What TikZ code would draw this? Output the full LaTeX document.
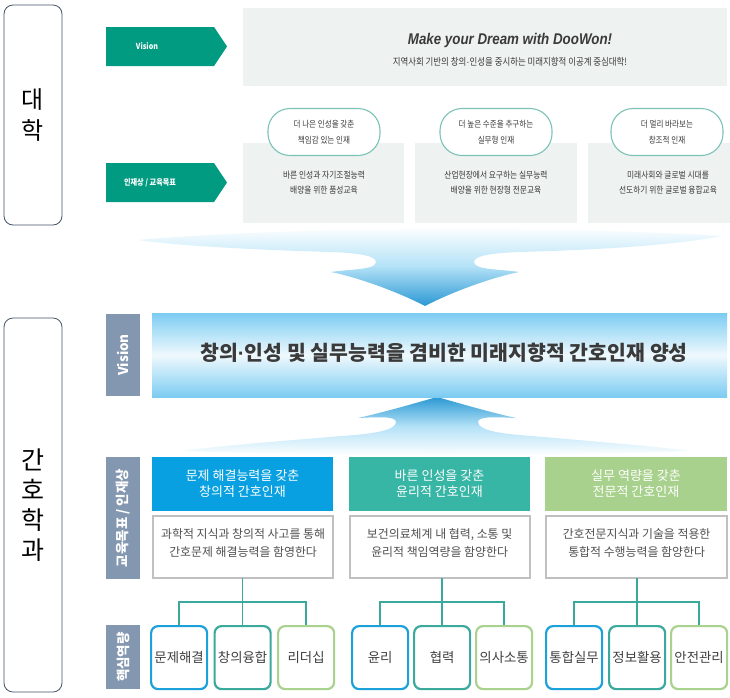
\documentclass[tikz,border=0pt]{standalone}
\usepackage{fontspec}
\setmainfont{Noto Sans CJK KR}
\newfontfamily\narrowkr[FakeStretch=0.86]{Noto Sans CJK KR}
\newfontfamily\latinf[FakeStretch=0.86]{Liberation Sans}
\newfontfamily\dotfont{Liberation Sans}
\definecolor{dwgreen}{HTML}{009B81}
\definecolor{dwgray}{HTML}{EEF2F1}
\definecolor{pillline}{HTML}{7CC3B6}
\definecolor{slate}{HTML}{44546A}
\definecolor{labgray}{HTML}{8497B0}
\definecolor{hblue}{HTML}{08A0E0}
\definecolor{hteal}{HTML}{37B5A5}
\definecolor{hgreen}{HTML}{A8D18D}
\definecolor{bblue}{HTML}{1DA1DB}
\definecolor{bteal}{HTML}{3BAA9C}
\definecolor{bgreen}{HTML}{AAD28F}
\definecolor{conn}{HTML}{3AA99B}
\definecolor{boxline}{HTML}{C0C0C0}
\definecolor{toptxt}{HTML}{3A3A3A}
\definecolor{bodytxt}{HTML}{505050}
\definecolor{skilltxt}{HTML}{404040}
\definecolor{arrblue}{HTML}{2B98D4}
\definecolor{arrmid}{HTML}{B4E2F7}
\definecolor{visblue}{HTML}{7CCCF2}
\tikzset{
  sidebox/.style={draw=slate, line width=0.8pt, rounded corners=9pt, anchor=north west},
  sidetext/.style={text=black, align=center},
  graypanel/.style={fill=dwgray, anchor=north west},
  greenarrow/.style={fill=dwgreen},
  greentext/.style={text=white, font=\narrowkr\bfseries\fontsize{8.3pt}{10pt}\selectfont},
  pill/.style={draw=pillline, line width=1.1pt, fill=white, rounded corners=22pt, anchor=north west,
    minimum width=112pt, minimum height=47pt, align=center, text=toptxt,
    font=\narrowkr\fontsize{8.8pt}{16pt}\selectfont},
  graytext/.style={align=center, text=toptxt, font=\narrowkr\fontsize{9pt}{15pt}\selectfont},
  labbox/.style={fill=labgray, anchor=north west, minimum width=34pt},
  labtext/.style={rotate=90, text=white, font=\bfseries\fontsize{13.5pt}{15pt}\selectfont},
  headbox/.style={anchor=north west, minimum width=181pt, minimum height=54pt, text=white, align=center,
    font=\fontsize{13pt}{16pt}\selectfont},
  bodybox/.style={draw=boxline, line width=2.2pt, fill=white, anchor=north west, minimum width=180pt, minimum height=62pt},
  bodytext/.style={align=center, text=bodytxt, font=\fontsize{11.9pt}{18.5pt}\selectfont},
  skill/.style={line width=2.2pt, rounded corners=7pt, fill=white, anchor=north west, minimum width=56pt,
    minimum height=63pt, text=skilltxt, font=\fontsize{13.4pt}{15pt}\selectfont},
  connline/.style={draw=conn, line width=1.4pt},
}
\begin{document}
\begin{tikzpicture}[x=1pt,y=-1pt, every node/.style={inner sep=0pt, outer sep=0pt}]
\useasboundingbox (0,0) rectangle (730,697);
\fill[white] (0,0) rectangle (730,697);

% ---------- left side boxes ----------
\node[sidebox, minimum width=58pt, minimum height=220pt] (univ) at (4,5) {};
\node[sidetext, font=\fontsize{24pt}{31pt}\selectfont] (univt) at (univ.center) {대\\학};
\node[sidebox, minimum width=58pt, minimum height=374pt] (nurse) at (4,318) {};
\node[sidetext, font=\fontsize{25pt}{30pt}\selectfont] (nurset) at (nurse.center) {간\\호\\학\\과};

% ---------- university section ----------
\node[graypanel, minimum width=484pt, minimum height=78pt] (uvis) at (243,8) {};
\node[text=toptxt, font=\latinf\bfseries\itshape\fontsize{15.5pt}{18pt}\selectfont] (slogan) at (510,40) {Make your Dream with DooWon!};
\node[text=toptxt, font=\narrowkr\fontsize{9.8pt}{11pt}\selectfont] (sub) at (510,62) {지역사회 기반의 창의{\dotfont ·}인성을 중시하는 미래지향적 이공계 중심대학!};

\path[greenarrow] (106,27) -- (214,27) -- (227,46.5) -- (214,66) -- (106,66) -- cycle;
\node[greentext] (gv) at (147,46.5) {Vision};
\path[greenarrow] (106,163) -- (214,163) -- (227,182.5) -- (214,202) -- (106,202) -- cycle;
\node[greentext] (gi) at (150,182.5) {인재상 / 교육목표};

\node[graypanel, minimum width=161pt, minimum height=80pt] (gp1) at (243,143) {};
\node[graypanel, minimum width=162pt, minimum height=80pt] (gp2) at (415,143) {};
\node[graypanel, minimum width=142pt, minimum height=80pt] (gp3) at (588,143) {};
\node[pill] (p1) at (268,108.5) {더 나은 인성을 갖춘\\책임감 있는 인재};
\node[pill] (p2) at (440,108.5) {더 높은 수준을 추구하는\\실무형 인재};
\node[pill] (p3) at (611,108.5) {더 멀리 바라보는\\창조적 인재};
\node[graytext] (g1) at (324,183) {바른 인성과 자기조절능력\\배양을 위한 품성교육};
\node[graytext] (g2) at (496,183) {산업현장에서 요구하는 실무능력\\배양을 위한 현장형 전문교육};
\node[graytext] (g3) at (668,183) {미래사회와 글로벌 시대를\\선도하기 위한 글로벌 융합교육};

% ---------- big arrows ----------
\shade[top color=white, bottom color=arrblue, middle color=arrmid]
 (425,306) .. controls (398,292) and (360,278) .. (331,272)
 .. controls (350,269) and (376,270) .. (376,262)
 .. controls (376,256) and (360,253) .. (330,252)
 .. controls (260,250) and (180,246) .. (138,240)
 .. controls (300,226) and (560,226) .. (722,236)
 .. controls (670,246) and (590,250) .. (520,252)
 .. controls (490,253) and (474,256) .. (474,262)
 .. controls (474,270) and (500,269) .. (519,272)
 .. controls (490,278) and (452,292) .. (425,306) -- cycle;

\shade[top color=arrblue, bottom color=white, middle color=arrmid]
 (437,397) .. controls (412,404) and (385,412) .. (358,418)
 .. controls (378,417) and (396,416) .. (396,422)
 .. controls (396,431) and (370,434) .. (342,436)
 .. controls (280,441) and (220,446) .. (180,451)
 .. controls (330,456) and (560,456) .. (692,451)
 .. controls (650,446) and (590,441) .. (532,436)
 .. controls (504,434) and (478,431) .. (478,422)
 .. controls (478,416) and (496,417) .. (516,418)
 .. controls (489,412) and (462,404) .. (437,397) -- cycle;

% ---------- nursing section ----------
\node[labbox, minimum height=82pt] (lv) at (106,314) {};
\node[labtext] (lvt) at (lv.center) {Vision};
\node[anchor=north west, minimum width=575pt, minimum height=84pt,
      top color=visblue, bottom color=visblue, middle color=white!88!visblue] (nvis) at (152,313) {};
\node[text=toptxt, font=\bfseries\fontsize{20.5pt}{22pt}\selectfont] (nvist) at (444,353) {창의{\dotfont\bfseries ·}인성 및 실무능력을 겸비한 미래지향적 간호인재 양성};

\node[labbox, minimum height=122pt] (lg) at (106,457) {};
\node[labtext] (lgt) at (lg.center) {교육목표 / 인재상};

\node[headbox, fill=hblue] (h1) at (152,457) {문제 해결능력을 갖춘\\창의적 간호인재};
\node[headbox, fill=hteal] (h2) at (349,457) {바른 인성을 갖춘\\윤리적 간호인재};
\node[headbox, fill=hgreen, minimum width=182pt] (h3) at (545,457) {실무 역량을 갖춘\\전문적 간호인재};

\node[bodybox] (b1) at (153.1,516.1) {};
\node[bodybox] (b2) at (349.6,516.1) {};
\node[bodybox, minimum width=181pt] (b3) at (546.1,516.1) {};
\node[bodytext] (b1t) at ([yshift=4pt]b1.center) {과학적 지식과 창의적 사고를 통해\\간호문제 해결능력을 함영한다};
\node[bodytext] (b2t) at ([yshift=4pt]b2.center) {보건의료체계 내 협력, 소통 및\\윤리적 책임역량을 함양한다};
\node[bodytext] (b3t) at ([yshift=4pt]b3.center) {간호전문지식과 기술을 적용한\\통합적 수행능력을 함양한다};

\node[labbox, minimum height=64pt] (lk) at (106,625) {};
\node[labtext] (lkt) at (lk.center) {핵심역량};

\node[skill, draw=bblue]  (k11) at (151.1,626.1) {문제해결};
\node[skill, draw=bteal]  (k12) at (214.6,626.1) {창의융합};
\node[skill, draw=bgreen] (k13) at (278.1,626.1) {리더십};
\node[skill, draw=bblue]  (k21) at (352.1,626.1) {윤리};
\node[skill, draw=bteal]  (k22) at (414.1,626.1) {협력};
\node[skill, draw=bgreen] (k23) at (476.1,626.1) {의사소통};
\node[skill, draw=bblue]  (k31) at (546.1,626.1) {통합실무};
\node[skill, draw=bteal]  (k32) at (609.1,626.1) {정보활용};
\node[skill, draw=bgreen] (k33) at (671.1,626.1) {안전관리};

% ---------- connectors ----------
\coordinate (j1) at (k12.north |- 0,602);
\coordinate (j2) at (k22.north |- 0,602);
\coordinate (j3) at (k32.north |- 0,602);
\draw[connline] (k12.north |- b1.south) -- (j1) -- ([yshift=1.1pt]k12.north);
\draw[connline] ([yshift=1.1pt]k11.north) |- (j1) -| ([yshift=1.1pt]k13.north);
\draw[connline] (k22.north |- b2.south) -- (j2) -- ([yshift=1.1pt]k22.north);
\draw[connline] ([yshift=1.1pt]k21.north) |- (j2) -| ([yshift=1.1pt]k23.north);
\draw[connline] (k32.north |- b3.south) -- (j3) -- ([yshift=1.1pt]k32.north);
\draw[connline] ([yshift=1.1pt]k31.north) |- (j3) -| ([yshift=1.1pt]k33.north);
\end{tikzpicture}
\end{document}
